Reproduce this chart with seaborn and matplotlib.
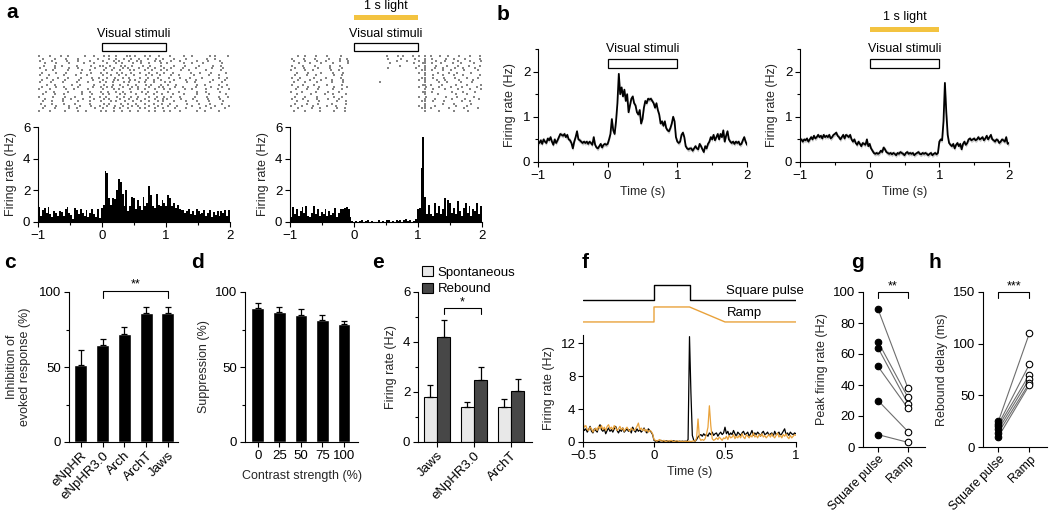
import numpy as np
import pandas as pd
import seaborn as sns
import matplotlib.pyplot as plt
from matplotlib.patches import Rectangle, Patch
from matplotlib.transforms import blended_transform_factory
from matplotlib.ticker import MultipleLocator

# ---------------- data ----------------
# raster rows: 50 ms bins from -1 to 2 s, digit = spike offset (tenths of a bin)
raster_ctrl = [
    "3..7...2.5....8..4.." "6.2.4..79.3..5.1.8.." ".4...7..2....6.3...5",
    ".5...2..8...4.....7." "..3.5.8..2.6..4.9..1" "..6...3.....8..2....",
    "7...4....1..6...3..." "4..7.2..5.8.3...6.2." ".5..3....7...1..8...",
    "..2..6...8....3..5.." ".7..4.1..6..3.8...5." "3....6..2..7.....4..",
    ".8...3.5....2...7..4" "2.6..8.3.4..7..1..5." "..4..8....3...6..2..",
    "5....2...7..4....8.." ".3.8..5.2..6..4.7..3" ".7...2...5....3..8..",
    "..4.7....3...6..1..." "6..2.5..8.1..4.7..3." "4...8..1....6....3..",
    ".2...5..8....3..6..7" ".5..7.3..2.8..6..1.4" "..3....7..5...2...6.",
    "6..3....2..8...4...." "3.8..4.6..1..7.5..2." ".5..2...8....4..7...",
    "..7...1..5...3..8..2" ".6..2.7.4..8..3..6.." "8...3..6...2....5..1",
    ".3..6...4...8....2.." "4..8.1..6.3..7..2.5." "..6...1..4....8...3.",
    "5...2..7....3..6...4" ".2.5..8.3..6.4..1..7" ".3....6..2...7...4..",
    "..8..3....6..1...5.." "7..3.6..2.5..8.4..3." "5..2.....8..3...6..2",
    ".4...7..2...5....3.8" ".5.2..7..4.1..6..8.2" "..7..3...5....1..4..",
    "3..6....8..2...7...." "2..6.4..8..3.5..7..4" ".4...8..2...6...3..7",
    "..5..1...4...7..3..6" ".8..3.5..2..6.4..1.." "6...2....7..4...8...",
    ".7...4..2....6..8..." "4.1..7.3..5..8..2.6." "..2..5...8...3....6.",
    "4...8...3..6....2..5" ".3..6.8..1.4..7..3.5" ".6..3....2..7...5..4",
    "..2....7..4...1..6.." "6.2..5..3.8..4..6..1" "3...7...5....2..8...",
    ".6..3..8....5...2..7" "..7.4..1.6..3.8..5.2" "..5...2..6...4...7..",
    "8...5...2..7....4..." "5.3..8..2.6..4..1.7." ".2....6...3..8...5..",
    "..3..6...8...2..5..4" ".6..2.7..4.3..8..6.." "7..4....1...5..3...6",
    ".5...2...6..3....8.." "3..7.5..2..8.4..6..2" "..8...3...6...2...4.",
    "4..7....3...5..1...8" ".4.8..3.6..2..7.5..3" ".3..5....7..2...6...",
]
raster_light = [
    "..4.7...2..5...8...." "..........3..6.2..5." "2.3.2.8..4..7...3..5",
    "6...3..8....2..5.7.." "..........5...8....2" "..3.3...6..2..8....4",
    ".3..7...5..2...6..1." ".............4..7..." "4.3..7..3...6...2..8",
    "..8...4..6...3....2." "...........2......6." ".52.5..2..8..4...6..",
    "5...2..7....4..6...." "..............3....." "3.3..6...2..5..8...3",
    ".6..3...8...5...2..." "..........7........4" "..3..3.8...6..2..7..",
    "3...6..1....7..4...." "...................." ".23.4..7..3...5...8.",
    "..2..5...8...3..6..." "...................." "4.3...3..7..2...6...",
    ".7...4..2....6..3..." "...................." "..3.6..8...4..2....5",
    "5..2...6...3...8...." "...................." ".43.8...2..6...3..7.",
    "..6...3..7...2..5..." "...................." "2.3..8..4...7....3..",
    ".3..8...5....2..6..." "........2..........." "..3...6..2...5..8...",
    "6...2..4...7....3..." "...................." ".63.2..5...8...3...6",
    "..4..7...2...6...8.." "...................." "3.4...7...2..6....5.",
    ".8...3..6....4..2..." "...................." "..3.8...3...5...2..6",
    "4..6....2..8...3...." "...................." ".53.3.....6...2..7..",
    "..2...5...8..3...6.." "...................." "..3...4....8...2....",
    ".5..7...3....6..2..." "...................." "3.4.....6...2....5..",
    "7...2...5..8...4...." "...................." "..3..3....5...8....2",
    "..3..6...2....7..5.." "...................." ".33.6...2....8..4...",
    ".6...3..8....2...5.." "...................." "..3....7...3....6...",
    "4..7...2...5..3....." "...................." "2.3..3.....8...4....",
    "..5...8..3....6..2.." "...................." ".43.2....6....3...7.",
    ".2..6....4...7...3.." "...................." "..3...5....2...6....",
]

# PSTH, 30 ms bins from -1 to 2 s (Hz)
psth_ctrl = [
    0.95, 0.4, 0.75, 0.9, 0.6, 0.95, 0.5, 0.3, 0.7, 0.55, 0.35, 0.7, 0.65, 0.4, 0.8,
    0.95, 0.6, 0.45, 0.2, 0.9, 0.75, 0.5, 0.85, 0.6, 0.4, 0.75, 0.3, 0.55, 0.85, 0.5,
    0.3, 0.8, 0.25, 0.9,
    1.1, 3.25, 3.1, 1.5, 1.1, 1.5, 1.45, 2.0, 2.7, 2.5, 1.8, 1.0, 2.0, 0.7, 1.0, 1.6,
    1.5, 0.8, 1.4, 1.0, 0.75, 1.6, 1.0, 1.2, 2.3, 1.7, 1.0, 0.9, 1.8, 1.1, 1.0, 1.4,
    1.2, 1.0,
    1.7, 1.5, 1.0, 1.2, 0.9, 1.1, 0.8, 0.75, 0.75, 0.6, 0.7, 0.8, 0.5, 0.7, 0.45,
    0.85, 0.7, 0.5, 0.6, 0.75, 0.4, 0.6, 0.75, 0.3, 0.65, 0.45, 0.7, 0.35, 0.7, 0.6,
    0.75, 0.4, 0.75,
]
psth_light = [
    0.3, 0.95, 0.5, 0.85, 0.4, 0.7, 0.95, 0.6, 1.0, 0.35, 0.3, 0.6, 1.0, 0.5, 0.8,
    0.4, 0.65, 0.5, 0.8, 0.35, 0.7, 0.45, 0.6, 0.9, 0.3, 0.55, 0.8, 0.85, 0.9, 0.95,
    0.8, 0.3, 0.05, 0.0,
    0.05, 0.0, 0.08, 0.1, 0.0, 0.05, 0.12, 0.0, 0.05, 0.0, 0.03, 0.0, 0.1, 0.0, 0.05,
    0.0, 0.15, 0.12, 0.0, 0.05, 0.0, 0.1, 0.05, 0.1, 0.0, 0.12, 0.18, 0.08, 0.15, 0.0,
    0.05, 0.2,
    0.8, 0.9, 3.4, 5.4, 1.6, 0.5, 1.1, 0.5, 0.4, 1.2, 0.6, 1.0, 0.5, 0.8, 1.5, 0.4,
    1.4, 1.2, 0.6, 0.9, 0.5, 1.3, 0.7, 0.4, 0.9, 1.2, 0.6, 1.0, 0.4, 0.8, 0.7, 1.2,
    0.5, 1.0,
]

# population firing rate, 20 ms steps from -1 to 2 s (Hz)
pop_ctrl = [
    0.45, 0.42, 0.48, 0.4, 0.5, 0.45, 0.42, 0.52, 0.48, 0.55,
    0.45, 0.38, 0.5, 0.42, 0.48, 0.55, 0.62, 0.6, 0.58, 0.62,
    0.55, 0.6, 0.5, 0.48, 0.42, 0.3, 0.45, 0.55, 0.68, 0.5,
    0.48, 0.45, 0.42, 0.45, 0.42, 0.45, 0.4, 0.45, 0.42, 0.38,
    0.55, 0.38, 0.32, 0.3, 0.35, 0.4, 0.32, 0.38, 0.4, 0.38,
    0.4, 0.5, 0.62, 0.95, 0.7, 0.62, 0.9, 1.3, 1.95, 1.5,
    1.65, 1.45, 1.6, 1.35, 1.5, 1.1, 1.25, 1.4, 1.45, 1.3,
    1.25, 1.1, 1.05, 1.15, 0.85, 0.95, 1.2, 1.35, 1.3, 1.4,
    1.38, 1.4, 1.35, 1.3, 1.2, 1.3, 1.15, 1.05, 0.85, 0.9,
    0.8, 0.9, 0.75, 0.7, 0.68, 0.75, 0.85, 1.0, 0.9, 0.55,
    0.45, 0.42, 0.45, 0.6, 0.65, 0.55, 0.35, 0.3, 0.28, 0.3,
    0.3, 0.25, 0.3, 0.35, 0.3, 0.28, 0.4, 0.35, 0.28, 0.22,
    0.35, 0.3, 0.4, 0.45, 0.55, 0.5, 0.6, 0.48, 0.55, 0.62,
    0.5, 0.62, 0.55, 0.7, 0.45, 0.58, 0.68, 0.5, 0.45, 0.42,
    0.45, 0.4, 0.45, 0.42, 0.45, 0.38, 0.4, 0.48, 0.55, 0.45,
    0.38,
]
pop_light = [
    0.48, 0.5, 0.45, 0.5, 0.48, 0.52, 0.45, 0.5, 0.55, 0.5,
    0.58, 0.52, 0.55, 0.6, 0.55, 0.58, 0.52, 0.6, 0.55, 0.58,
    0.55, 0.6, 0.52, 0.55, 0.6, 0.62, 0.65, 0.58, 0.55, 0.5,
    0.55, 0.6, 0.52, 0.6, 0.58, 0.55, 0.6, 0.5, 0.45, 0.5,
    0.42, 0.38, 0.45, 0.4, 0.35, 0.42, 0.4, 0.38, 0.5, 0.35,
    0.4, 0.3, 0.25, 0.2, 0.18, 0.2, 0.18, 0.2, 0.25, 0.22,
    0.32, 0.28, 0.22, 0.2, 0.18, 0.2, 0.17, 0.2, 0.18, 0.15,
    0.2, 0.18, 0.22, 0.2, 0.18, 0.15, 0.2, 0.22, 0.18, 0.2,
    0.18, 0.2, 0.15, 0.18, 0.2, 0.22, 0.18, 0.17, 0.2, 0.18,
    0.2, 0.18, 0.15, 0.18, 0.2, 0.15, 0.18, 0.2, 0.17, 0.2,
    0.45, 0.5, 0.48, 0.9, 1.75, 1.1, 0.6, 0.42, 0.38, 0.35,
    0.4, 0.3, 0.38, 0.42, 0.35, 0.4, 0.28, 0.4, 0.45, 0.38,
    0.42, 0.5, 0.52, 0.48, 0.5, 0.52, 0.48, 0.5, 0.55, 0.5,
    0.52, 0.55, 0.48, 0.52, 0.58, 0.5, 0.55, 0.6, 0.5, 0.48,
    0.45, 0.5, 0.48, 0.42, 0.45, 0.5, 0.48, 0.45, 0.55, 0.4,
    0.42,
]
pop_sem = 0.05

# panel c
opsins = ['eNpHR', 'eNpHR3.0', 'Arch', 'ArchT', 'Jaws']
inhibition = [51.5, 64.5, 72, 86, 86]
inhibition_err = [10, 4, 5, 4, 4]

# panel d
contrast = ['0', '25', '50', '75', '100']
suppression = [89.5, 86.5, 85, 81.5, 78.5]
suppression_err = [3.5, 3.5, 4, 3.5, 2.5]

# panel e
e_opsins = ['Jaws', 'eNpHR3.0', 'ArchT']
spont = [1.8, 1.4, 1.42]
spont_err = [0.5, 0.2, 0.3]
rebound = [4.2, 2.5, 2.03]
rebound_err = [0.7, 0.5, 0.5]

# panel f: 10 ms steps from -0.5 to 1 s (Hz)
f_square = [
    1.8, 1.4, 1.6, 1.2, 1.5, 1.9, 1.3, 1.1, 1.6, 1.4,
    1.2, 1.8, 2.1, 1.5, 1.3, 1.6, 1.0, 1.4, 1.7, 1.3,
    1.5, 1.2, 1.6, 1.9, 1.4, 1.1, 1.5, 1.3, 1.7, 1.2,
    1.4, 1.6, 1.3, 1.5, 1.1, 1.8, 1.4, 1.2, 1.6, 1.3,
    1.5, 1.2, 1.4, 1.7, 1.3, 1.1, 1.6, 1.4, 1.2, 0.9,
    0.2, 0.1, 0.15, 0.05, 0.1, 0.2, 0.1, 0.05, 0.1, 0.15,
    0.05, 0.1, 0.05, 0.1, 0.15, 0.05, 0.1, 0.05, 0.1, 0.05,
    0.1, 0.05, 0.1, 0.05, 0.3, 12.8, 6.0, 0.8, 0.2, 0.1,
    0.3, 0.6, 0.8, 0.9, 0.7, 1.0, 0.8, 0.9, 0.7, 1.1,
    0.9, 1.2, 0.8, 1.0, 1.1, 0.7, 1.0, 1.2, 0.9, 1.1,
    1.8, 1.0, 1.3, 0.8, 1.1, 0.9, 1.4, 1.0, 0.7, 1.2,
    1.0, 0.8, 1.1, 1.3, 0.9, 1.0, 1.2, 0.7, 1.0, 1.4,
    0.8, 1.1, 0.9, 1.2, 1.0, 0.7, 1.1, 1.3, 0.9, 1.0,
    1.2, 0.8, 1.0, 1.1, 0.7, 1.3, 0.9, 1.0, 1.2, 0.8,
    1.0, 1.3, 1.6, 0.9, 1.1, 0.8, 1.2, 1.0, 0.9, 1.1,
    1.0,
]
f_ramp = [
    2.3, 1.8, 2.0, 1.5, 1.4, 1.8, 1.6, 1.2, 1.5, 1.7,
    1.4, 1.9, 1.6, 2.0, 1.5, 1.8, 1.4, 1.9, 2.1, 1.6,
    1.8, 1.5, 2.0, 1.7, 1.4, 1.6, 1.9, 1.5, 1.7, 1.3,
    1.6, 1.8, 1.5, 1.3, 1.7, 1.5, 1.4, 1.6, 1.9, 2.3,
    1.5, 1.7, 1.4, 1.6, 1.3, 1.5, 1.2, 1.4, 1.3, 1.0,
    0.3, 0.2, 0.1, 0.2, 0.3, 0.15, 0.1, 0.2, 0.05, 0.1,
    0.15, 0.1, 0.2, 0.1, 0.05, 0.1, 0.15, 0.1, 0.05, 0.1,
    0.05, 0.1, 0.05, 0.1, 0.05, 0.1, 0.05, 0.1, 0.15, 0.1,
    0.5, 2.8, 0.5, 0.2, 0.3, 0.2, 0.4, 1.0, 1.8, 4.4,
    2.0, 0.4, 0.2, 0.3, 0.5, 0.3, 0.6, 0.4, 0.2, 0.5,
    0.4, 0.7, 0.3, 0.8, 0.5, 0.6, 0.9, 0.4, 0.7, 0.5,
    0.8, 0.5, 1.0, 0.6, 0.4, 0.9, 0.7, 0.5, 0.8, 0.6,
    1.1, 0.6, 0.8, 0.5, 0.9, 0.7, 1.0, 0.6, 0.8, 0.5,
    0.7, 0.9, 0.6, 1.0, 0.7, 0.5, 0.8, 1.1, 0.6, 0.8,
    0.5, 0.9, 0.7, 1.0, 0.6, 0.4, 0.8, 0.5, 0.7, 0.9,
    0.8,
]
# light protocols (time s, normalised intensity)
square_t = [-0.5, 0, 0, 0.25, 0.25, 1.0]
square_v = [0, 0, 1, 1, 0, 0]
ramp_t = [-0.5, 0, 0, 0.25, 0.5, 1.0]
ramp_v = [0, 0, 1, 1, 0, 0]

# panels g, h (paired cells)
cond_labels = ['Square pulse', 'Ramp']
peak_square = [89, 68, 64, 52, 30, 8]
peak_ramp = [38, 32, 28, 25, 10, 3]
delay_square = [25, 22, 20, 17, 14, 10]
delay_ramp = [110, 80, 70, 66, 62, 60]

# ---------------- style ----------------
sns.set_theme(style='ticks')
plt.rcParams['font.family'] = ['Liberation Sans', 'DejaVu Sans']
plt.rcParams.update({
    'font.size': 9, 'axes.labelsize': 9, 'xtick.labelsize': 9.5, 'ytick.labelsize': 9.5,
    'axes.linewidth': 0.8, 'xtick.major.width': 0.8, 'ytick.major.width': 0.8,
    'xtick.minor.width': 0.8, 'ytick.minor.width': 0.8,
    'xtick.major.size': 3.5, 'ytick.major.size': 3.5,
    'xtick.minor.size': 2.5, 'ytick.minor.size': 2.5,
    'xtick.major.pad': 2, 'ytick.major.pad': 2,
    'axes.labelpad': 3, 'axes.edgecolor': 'black',
    'xtick.color': 'black', 'ytick.color': 'black', 'text.color': 'black',
})
LIGHT = '#F3C340'
ORANGE = '#E9A23B'

W, H = 1050, 514
fig = plt.figure(figsize=(10.5, 5.14), dpi=100)


def px_axes(x0, y0, x1, y1):
    return fig.add_axes([x0 / W, 1 - y1 / H, (x1 - x0) / W, (y1 - y0) / H])


def parse_raster(rows):
    ts, tr = [], []
    for r, row in enumerate(rows):
        w = 3.0 / len(row)
        for i, ch in enumerate(row):
            if ch.isdigit():
                ts.append(-1 + (i + int(ch) / 10) * w)
                tr.append(r)
    return pd.DataFrame({'t': ts, 'trial': tr})


def stim_box(ax, trans, y0, y1, ty):
    ax.add_patch(Rectangle((0, y0), 1, y1 - y0, transform=trans, facecolor='white',
                           edgecolor='black', lw=0.9, clip_on=False))
    ax.text(0.5, ty, 'Visual stimuli', transform=trans, ha='center', va='center')


def light_bar(ax, trans, y0, y1, ty):
    ax.add_patch(Rectangle((0, y0), 1, y1 - y0, transform=trans, facecolor=LIGHT,
                           edgecolor='none', clip_on=False))
    ax.text(0.5, ty, '1 s light', transform=trans, ha='center', va='center')


def bracket(ax, x0, x1, y, h, txt):
    ax.plot([x0, x0, x1, x1], [y - h, y, y, y - h], color='black', lw=0.8, clip_on=False)
    ax.text((x0 + x1) / 2, y, txt, ha='center', va='bottom')


def time_ticks(ax):
    ax.xaxis.set_major_locator(MultipleLocator(1))
    ax.xaxis.set_minor_locator(MultipleLocator(0.5))
    ax.set_xlim(-1, 2)


# ---------------- panel a ----------------
for k, (rows, psth, x0) in enumerate([(raster_ctrl, psth_ctrl, 38), (raster_light, psth_light, 290)]):
    axr = px_axes(x0, 55, x0 + 192, 112)
    sns.scatterplot(data=parse_raster(rows), x='t', y='trial', marker='s', s=1.2,
                    color='#858585', linewidth=0, ax=axr)
    axr.set_xlim(-1, 2)
    axr.set_ylim(len(rows) - 0.5, -0.5)
    axr.axis('off')
    tr = blended_transform_factory(axr.transData, axr.transAxes)
    stim_box(axr, tr, 1.07, 1.21, 1.37)
    if k == 1:
        light_bar(axr, tr, 1.61, 1.70, 1.86)

    axh = px_axes(x0, 127, x0 + 192, 222)
    bw = 3.0 / len(psth)
    df_h = pd.DataFrame({'t': -1 + bw * (np.arange(len(psth)) + 0.5), 'rate': psth})
    sns.histplot(data=df_h, x='t', weights='rate', binwidth=bw, binrange=(-1, 2),
                 color='black', alpha=1, linewidth=0, ax=axh)
    time_ticks(axh)
    axh.set_ylim(0, 6)
    axh.set_yticks([0, 2, 4, 6])
    axh.set_xlabel('')
    axh.set_ylabel('Firing rate (Hz)', labelpad=4)
    sns.despine(ax=axh)

# ---------------- panel b ----------------
t_b = np.linspace(-1, 2, len(pop_ctrl))
for k, (trace, x0) in enumerate([(pop_ctrl, 538), (pop_light, 800)]):
    ax = px_axes(x0, 49, x0 + 209, 162)
    trace = np.array(trace)
    ax.fill_between(t_b, trace - pop_sem, trace + pop_sem, color='#c8c8c8', lw=0)
    sns.lineplot(x=t_b, y=trace, color='black', lw=1.3, ax=ax)
    time_ticks(ax)
    ax.set_ylim(0, 2.5)
    ax.yaxis.set_major_locator(MultipleLocator(1))
    ax.yaxis.set_minor_locator(MultipleLocator(0.5))
    ax.set_xlabel('Time (s)', labelpad=3)
    ax.set_ylabel('Firing rate (Hz)', labelpad=5)
    stim_box(ax, ax.transData, 2.07, 2.27, 2.49)
    if k == 1:
        light_bar(ax, ax.transData, 2.87, 2.98, 3.2)
    sns.despine(ax=ax)

# ---------------- panel c ----------------
ax = px_axes(69, 292, 178, 442)
sns.barplot(x=opsins, y=inhibition, color='black', width=0.6, ax=ax)
ax.errorbar(range(len(opsins)), inhibition, yerr=[np.zeros(len(opsins)), inhibition_err],
            fmt='none', ecolor='black', elinewidth=0.9, capsize=2.5, capthick=0.9)
ax.set_xlim(-0.55, 4.47)
ax.set_ylim(0, 100)
ax.set_yticks([0, 50, 100])
ax.yaxis.set_minor_locator(MultipleLocator(25))
ax.set_xticks(range(len(opsins)))
ax.set_xticklabels(opsins, rotation=45, ha='right', rotation_mode='anchor')
ax.set_ylabel('Inhibition of\nevoked response (%)', labelpad=6, linespacing=1.1)
bracket(ax, 1, 4, 101, 5, '**')
sns.despine(ax=ax)

# ---------------- panel d ----------------
ax = px_axes(245, 292, 358, 442)
sns.barplot(x=contrast, y=suppression, color='black', width=0.6, ax=ax)
ax.errorbar(range(len(contrast)), suppression, yerr=[np.zeros(len(contrast)), suppression_err],
            fmt='none', ecolor='black', elinewidth=0.9, capsize=2.5, capthick=0.9)
ax.set_xlim(-0.6, 4.65)
ax.set_ylim(0, 100)
ax.set_yticks([0, 50, 100])
ax.yaxis.set_minor_locator(MultipleLocator(25))
ax.set_xlabel('Contrast strength (%)', labelpad=6)
ax.set_ylabel('Suppression (%)', labelpad=4)
sns.despine(ax=ax)

# ---------------- panel e ----------------
ax = px_axes(418, 292, 532, 442)
df_e = pd.DataFrame({
    'opsin': e_opsins * 2,
    'rate': spont + rebound,
    'cond': ['Spontaneous'] * 3 + ['Rebound'] * 3,
})
sns.barplot(data=df_e, x='opsin', y='rate', hue='cond', palette=['#e8e8e8', '#474747'],
            width=0.72, edgecolor='black', linewidth=0.8, legend=False, ax=ax)
for cont, err in zip(ax.containers, [spont_err, rebound_err]):
    xs = [p.get_x() + p.get_width() / 2 for p in cont]
    ys = [p.get_height() for p in cont]
    ax.errorbar(xs, ys, yerr=[np.zeros(len(err)), err], fmt='none', ecolor='black',
                elinewidth=0.9, capsize=2.5, capthick=0.9)
ax.set_xlim(-0.51, 2.57)
ax.set_ylim(0, 6)
ax.set_yticks([0, 2, 4, 6])
ax.yaxis.set_minor_locator(MultipleLocator(1))
ax.set_xticks(range(3))
ax.set_xticklabels(e_opsins, rotation=45, ha='right', rotation_mode='anchor')
ax.set_xlabel('')
ax.set_ylabel('Firing rate (Hz)', labelpad=4)
bracket(ax, 0.18, 1.18, 5.36, 0.25, '*')
sns.despine(ax=ax)
fig.legend(handles=[Patch(facecolor='#e8e8e8', edgecolor='black', lw=0.8),
                    Patch(facecolor='#474747', edgecolor='black', lw=0.8)],
           labels=['Spontaneous', 'Rebound'], loc='upper left',
           bbox_to_anchor=(422 / W, 1 - 266 / H), frameon=False, handlelength=0.8,
           handleheight=0.8, handletextpad=0.4, labelspacing=0.3, borderpad=0,
           borderaxespad=0, fontsize=9.5)

# ---------------- panel f ----------------
axs = px_axes(583, 280, 796, 326)
axs.plot(square_t, np.array(square_v) + 1.47, color='black', lw=1)
axs.plot(ramp_t, ramp_v, color=ORANGE, lw=1)
axs.set_xlim(-0.5, 1)
axs.set_ylim(-0.27, 2.8)
axs.text(0.51, 2.07, 'Square pulse', ha='left', va='center', fontsize=9.5)
axs.text(0.51, 0.6, 'Ramp', ha='left', va='center', fontsize=9.5)
axs.axis('off')

ax = px_axes(583, 335, 796, 442)
t_f = np.linspace(-0.5, 1, len(f_square))
sns.lineplot(x=t_f, y=f_square, color='black', lw=0.9, ax=ax)
sns.lineplot(x=t_f, y=f_ramp, color=ORANGE, lw=0.9, ax=ax)
ax.set_xlim(-0.5, 1)
ax.set_ylim(0, 13)
ax.set_xticks([-0.5, 0, 0.5, 1])
ax.set_xticklabels(['\u22120.5', '0', '0.5', '1'])
ax.set_yticks([0, 4, 8, 12])
ax.set_xlabel('Time (s)', labelpad=3)
ax.set_ylabel('Firing rate (Hz)', labelpad=4)
sns.despine(ax=ax)

# ---------------- panels g, h ----------------
for vals_sq, vals_rp, x0, x1, ymax, step, ylabel, stars in [
        (peak_square, peak_ramp, 863, 925, 100, 20, 'Peak firing rate (Hz)', '**'),
        (delay_square, delay_ramp, 983, 1047, 150, 50, 'Rebound delay (ms)', '***')]:
    ax = px_axes(x0, 292, x1, 447)
    n = len(vals_sq)
    df = pd.DataFrame({'pos': [0] * n + [1] * n, 'val': vals_sq + vals_rp,
                       'pair': list(range(n)) * 2})
    sns.lineplot(data=df, x='pos', y='val', units='pair', estimator=None,
                 color='#6e6e6e', lw=0.8, ax=ax)
    sns.scatterplot(x=[0] * n, y=vals_sq, color='black', edgecolor='black', s=22,
                    linewidth=0.8, zorder=3, ax=ax)
    sns.scatterplot(x=[1] * n, y=vals_rp, color='white', edgecolor='black', s=22,
                    linewidth=0.8, zorder=3, ax=ax)
    ax.set_xlim(-0.5, 1.57)
    ax.set_ylim(0, ymax)
    ax.yaxis.set_major_locator(MultipleLocator(step))
    ax.set_xticks([0, 1])
    ax.set_xticklabels(cond_labels, rotation=45, ha='right', rotation_mode='anchor',
                       fontsize=8.8)
    ax.tick_params(axis='x', pad=1)
    ax.set_xlabel('')
    ax.set_ylabel(ylabel, labelpad=4)
    bracket(ax, 0, 1, ymax, ymax * 0.04, stars)
    sns.despine(ax=ax)

# ---------------- panel letters ----------------
for letter, x, y in [('a', 12, 12), ('b', 503, 15), ('c', 10, 263), ('d', 197, 263),
                     ('e', 378, 263), ('f', 585, 263), ('g', 857, 263), ('h', 935, 263)]:
    fig.text(x / W, 1 - y / H, letter, fontsize=15, fontweight='bold',
             ha='center', va='center')

fig.savefig('out.png', dpi=100)
